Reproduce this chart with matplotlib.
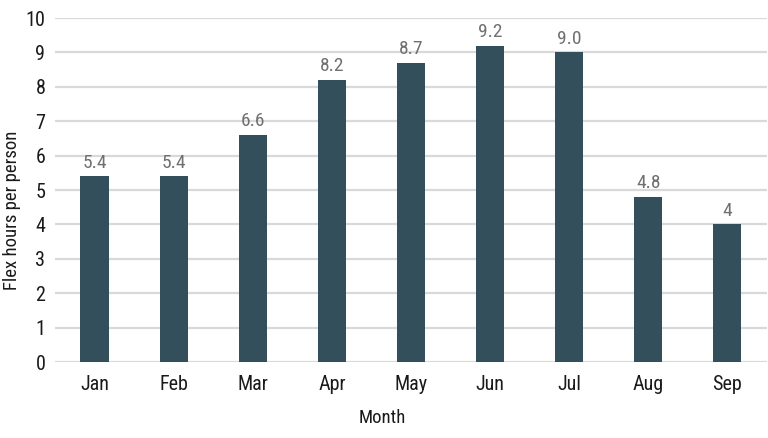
import matplotlib
matplotlib.use('Agg')
import matplotlib.pyplot as plt

months = ['Jan', 'Feb', 'Mar', 'Apr', 'May', 'Jun', 'Jul', 'Aug', 'Sep']
hours = [5.4, 5.4, 6.6, 8.2, 8.7, 9.2, 9.0, 4.8, 4.0]
hour_labels = ['5.4', '5.4', '6.6', '8.2', '8.7', '9.2', '9.0', '4.8', '4']
yticks = list(range(0, 11))

plt.rcParams['font.family'] = ['Roboto Condensed', 'Roboto', 'DejaVu Sans']

fig = plt.figure(figsize=(7.68, 4.38), dpi=100)
ax = fig.add_axes([0.0716, 0.1735, 0.927, 0.7854])

x = range(len(months))
bars = ax.bar(x, hours, width=0.355, color='#344f5c', zorder=3)
for b, t in zip(bars, hour_labels):
    ax.text(b.get_x() + b.get_width() / 2, b.get_height() + 0.13, t,
            ha='center', va='bottom', fontsize=14, color='#707070')

ax.set_xlim(-0.5, len(months) - 0.5)
ax.set_ylim(0, 10)
ax.set_yticks(yticks)
ax.set_xticks(list(x))
ax.set_xticklabels(months)
ax.grid(axis='y', color='#d9d9d9', linewidth=1.6, zorder=0)
for s in ax.spines.values():
    s.set_visible(False)
ax.tick_params(length=0, labelsize=14.5, colors='#1a1a1a', pad=7)
ax.tick_params(axis='x', pad=9)

ax.set_xlabel('Month', fontsize=13.5, color='#1a1a1a')
ax.set_ylabel('Flex hours per person', fontsize=13.5, color='#1a1a1a')
ax.xaxis.label.set_va('center')
ax.yaxis.label.set_va('center')
ax.xaxis.set_label_coords(382 / 768, 1 - 418 / 438, transform=fig.transFigure)
ax.yaxis.set_label_coords(12 / 768, 1 - 210 / 438, transform=fig.transFigure)

fig.savefig('out.png', dpi=100)
